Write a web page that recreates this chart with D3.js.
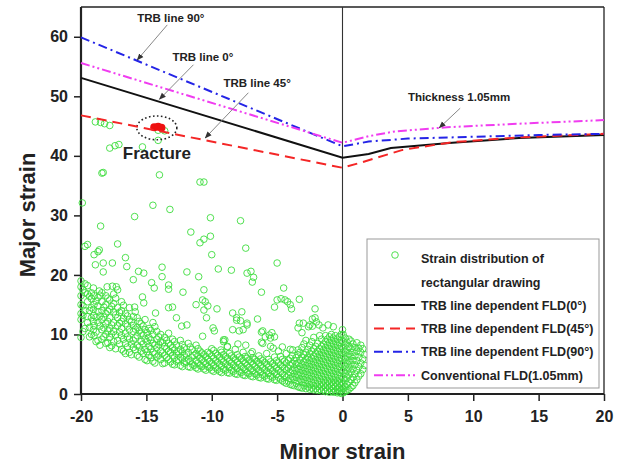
<!DOCTYPE html>
<html>
<head>
<meta charset="utf-8">
<script src="https://cdn.jsdelivr.net/npm/d3@7"></script>
<style>
  body { margin: 0; background: #fff; }
  svg { font-family: "Liberation Sans", Arial, sans-serif; }
</style>
</head>
<body>
<svg width="627" height="465"></svg>
<script>
const svg_width = 627;
const svg_height = 465;

// FLD curves, [minor strain, major strain]
const fld_0 = [[-20, 53.1], [0, 39.7], [2, 40.3], [3.7, 41.3], [8.4, 42.2], [13.5, 43.0], [20, 43.5]];
const fld_45 = [[-20, 46.8], [0, 38.0], [1.3, 38.8], [4.6, 41.0], [8.4, 42.3], [13.5, 43.1], [20, 43.7]];
const fld_90 = [[-20, 59.9], [0, 41.6], [2, 42.4], [5, 42.9], [10, 43.2], [15, 43.5], [20, 43.7]];
const fld_conv = [[-20, 55.6], [0, 42.2], [2, 43.3], [4, 44.1], [8, 44.8], [13.5, 45.4], [20, 46.0]];

const band_columns = [
  [-20, [9.5, 12.5, 13.5, 15, 16.5, 18, 19]],
  [-19.7, [11, 14, 17, 18.5]],
  [-19.5, [12, 13, 15.5, 16.8, 18.2]],
  [-19.2, [10, 12.8, 14.5, 16, 17]],
  [-19.0, [9.8, 11.5, 13.2, 15, 16.5]],
  [-18.7, [9, 12, 13.8, 14.8, 16.2]],
  [-18.4, [9.2, 10.8, 12.5, 14, 15.5, 17]],
  [-18.1, [8.5, 10, 11.8, 13.5, 15, 16.5]],
  [-17.8, [7.8, 9.5, 11, 12.8, 14.2, 15.8]],
  [-17.5, [8.8, 10.5, 12, 13.8, 15.2, 16.8]],
  [-17.2, [9, 11.5, 12.8, 14.5, 17.5]],
  [-16.9, [7.5, 9.8, 11, 12.2, 14, 15.5]],
  [-16.6, [6.8, 8.5, 10.2, 11.8, 13.5]],
  [-16.3, [7, 9.2, 10.8, 12.5, 14.5]],
  [-16.0, [7.8, 9, 10.5, 11.5, 13]],
  [-15.7, [6.5, 8.2, 9.8, 11.2, 12.8]],
  [-15.4, [7.2, 8.8, 10.2, 11.8]],
  [-15.1, [5.8, 7.5, 9.2, 10.8, 12.5]],
  [-14.8, [6.5, 8, 9.5, 11]],
  [-14.5, [5.5, 7, 8.5, 10, 12]],
  [-14.2, [6.2, 7.8, 9.2, 10.5]],
  [-13.9, [5.8, 7.2, 8.8, 10]],
  [-13.6, [5.2, 6.5, 8, 9.5]],
  [-13.3, [5.8, 7.2, 8.5, 10.2]],
  [-13.0, [5, 6.5, 7.8, 9.2]],
  [-12.7, [5.5, 6.8, 8.2]],
  [-12.4, [4.8, 6.2, 7.5, 9]],
  [-12.1, [5.2, 6.5, 7.8]],
  [-11.8, [4.6, 5.8, 7, 8.5]],
  [-11.5, [5, 6.2, 7.5]],
  [-11.2, [4.4, 5.6, 6.8, 8.2]],
  [-10.9, [4.8, 6, 7.2]],
  [-10.6, [4.2, 5.4, 6.6]],
  [-10.3, [4.6, 5.8, 7]],
  [-10.0, [4, 5.2, 6.4, 7.6]],
  [-9.7, [4.4, 5.6, 6.8]],
  [-9.4, [3.8, 5, 6.2]],
  [-9.1, [4.2, 5.4, 6.6, 8.8]],
  [-8.8, [3.6, 4.8, 6, 8]],
  [-8.5, [4, 5.2, 6.4]],
  [-8.2, [3.4, 4.6, 5.8, 7.5]],
  [-7.9, [3.8, 5, 6.2]],
  [-7.6, [3.2, 4.4, 5.6, 7]],
  [-7.3, [3.6, 4.8, 6]],
  [-7.0, [3, 4.2, 5.4, 6.8]],
  [-6.7, [3.4, 4.6, 5.8]],
  [-6.4, [2.8, 4, 5.2, 6.4]],
  [-6.1, [3.2, 4.4, 5.6, 8.5]],
  [-5.8, [2.6, 3.8, 5, 6.8]],
  [-5.5, [3, 4.2, 5.4, 8]],
  [-5.2, [2.4, 3.6, 4.8, 6.2]],
  [-4.9, [2.8, 4, 5.2, 7.2]],
  [-4.6, [2.2, 3.4, 4.6, 5.8]],
  [-4.3, [1.8, 2.8, 4, 5.2, 6.8]],
  [-4.0, [1.6, 2.6, 3.6, 4.8, 6, 7.5]],
  [-3.7, [1.4, 2.4, 3.4, 4.4, 5.6]],
  [-3.4, [1.2, 2.2, 3.2, 4.2, 5.2, 6.6]],
  [-3.1, [1.0, 2.0, 3.0, 4.0, 5.0, 6.2, 7.8]],
  [-2.8, [0.9, 1.8, 2.8, 3.8, 4.8, 5.8, 7, 9]],
  [-2.5, [0.8, 1.6, 2.6, 3.6, 4.6, 5.6, 6.8, 8.2]],
  [-2.2, [0.7, 1.4, 2.4, 3.4, 4.4, 5.4, 6.4, 7.6, 9.5]],
  [-1.9, [0.6, 1.3, 2.2, 3.2, 4.2, 5.2, 6.2, 7.2, 8.5]],
  [-1.6, [0.5, 1.2, 2, 3, 4, 5, 6, 7, 8, 9.2]],
  [-1.3, [0.4, 1.1, 1.9, 2.8, 3.8, 4.8, 5.8, 6.8, 7.8, 8.8, 9.8]],
  [-1.0, [0.3, 1, 1.8, 2.6, 3.6, 4.6, 5.6, 6.6, 7.6, 8.6, 9.6]],
  [-0.7, [0.3, 0.9, 1.6, 2.4, 3.4, 4.4, 5.4, 6.4, 7.4, 8.4, 9.4]],
  [-0.4, [0.2, 0.8, 1.5, 2.2, 3.2, 4.2, 5.2, 6.2, 7.2, 8.2, 9.2]],
  [-0.1, [0.1, 0.6, 1.4, 2, 3, 4, 5, 6, 7, 8, 9, 10]],
  [0.2, [0.4, 1.2, 2.2, 3.4, 4.6, 5.8, 7, 8.2, 9.4]],
  [0.5, [0.8, 2, 3.2, 4.4, 5.6, 6.8, 8, 9.2]],
  [0.8, [1.4, 2.8, 4.2, 5.6, 7, 8.4]],
  [1.1, [2.4, 4, 5.6, 7.2, 8.6]],
  [1.4, [3.4, 5.2, 7, 8.2]],
  [1.7, [4.8, 6.6]]
];

// second pass over the band, between the columns above
const band_columns_b = [
  [-19.85, [10.5, 13.2, 14.8, 17.5]],
  [-19.35, [9.6, 11.2, 14, 16.4]],
  [-19.05, [10.8, 12.2, 14.2, 17.8]],
  [-18.85, [8.8, 10.4, 12.9, 15.6]],
  [-18.55, [8.2, 11.4, 13.1, 16.6]],
  [-18.25, [9.6, 11.1, 12.9, 14.6]],
  [-17.95, [8.6, 10.6, 12.2, 13.9, 16.1]],
  [-17.65, [8.1, 10.1, 11.6, 14.7]],
  [-17.35, [7.6, 9.9, 13.3, 16.1]],
  [-17.05, [8.4, 10.4, 11.9, 13.7]],
  [-16.75, [7.2, 9.2, 12.7, 14.9]],
  [-16.45, [7.9, 9.6, 11.4, 13.1]],
  [-16.15, [6.6, 8.4, 12.1]],
  [-15.85, [7.4, 9.4, 10.9, 13.8]],
  [-15.55, [6.2, 7.9, 10.6, 12.2]],
  [-15.25, [6.8, 8.4, 9.9, 11.4]],
  [-14.95, [5.6, 7.1, 8.8, 10.3]],
  [-14.65, [6.1, 7.6, 9.1, 10.7]],
  [-14.35, [5.2, 6.7, 8.2, 11.3]],
  [-14.05, [6.5, 8.3, 9.6]],
  [-13.75, [5.1, 6.9, 8.6]],
  [-13.45, [6.1, 7.6, 9]],
  [-13.15, [5.4, 7, 8.2]],
  [-12.85, [4.9, 6.1, 7.4, 8.8]],
  [-12.55, [5.7, 7.1]],
  [-12.25, [4.6, 5.9, 7.1, 8.3]],
  [-11.95, [5.4, 6.7]],
  [-11.65, [4.5, 5.5, 7.9]],
  [-11.35, [4.8, 6.5]],
  [-11.05, [4.2, 5.2, 6.4, 7.6]],
  [-10.75, [4.6, 5.8, 6.9]],
  [-10.45, [4, 5.1, 6.3]],
  [-10.15, [4.4, 5.5, 6.8]],
  [-9.85, [3.8, 4.8, 6, 7.3]],
  [-9.55, [4.1, 5.3, 6.5]],
  [-9.25, [3.6, 4.7, 5.8, 7]],
  [-8.95, [4, 5.1, 6.3]],
  [-8.65, [3.5, 4.5, 5.6, 6.8]],
  [-8.35, [3.8, 4.9, 6.1]],
  [-8.05, [3.3, 4.3, 5.4, 6.6]],
  [-7.75, [3.6, 4.6, 5.9]],
  [-7.45, [3.1, 4.1, 5.2, 6.3]],
  [-7.15, [3.4, 4.5, 5.7]],
  [-6.85, [2.9, 3.9, 5, 6.1]],
  [-6.55, [3.2, 4.3, 5.5]],
  [-6.25, [2.7, 3.7, 4.8, 5.9]],
  [-5.95, [3, 4.1, 5.3]],
  [-5.65, [2.5, 3.5, 4.6, 5.8]],
  [-5.35, [2.8, 3.9, 5.1]],
  [-5.05, [2.3, 3.3, 4.4, 5.6]],
  [-4.75, [2.5, 3.7, 4.9, 6.3]],
  [-4.45, [2, 3.1, 4.3, 5.5]],
  [-4.15, [2.2, 3.2, 4.4, 5.7]],
  [-3.85, [1.5, 2.9, 4, 5.1, 6.4]],
  [-3.55, [1.8, 2.8, 3.9, 5, 6.1]],
  [-3.25, [1.1, 2.5, 3.6, 4.6, 5.7, 7]],
  [-2.95, [1.4, 2.4, 3.4, 4.4, 5.4, 6.6, 8.4]],
  [-2.65, [1.2, 2.2, 3.2, 4.2, 5.2, 6.2, 7.5]],
  [-2.35, [1, 2, 3, 4, 5, 6, 7.2, 8.8]],
  [-2.05, [0.9, 1.8, 2.8, 3.8, 4.8, 5.8, 6.8, 8]],
  [-1.75, [0.8, 1.6, 2.6, 3.6, 4.6, 5.6, 6.6, 7.6, 9.8]],
  [-1.45, [0.7, 1.5, 2.4, 3.4, 4.4, 5.4, 6.4, 7.4, 8.4]],
  [-1.15, [0.6, 1.4, 2.2, 3.2, 4.2, 5.2, 6.2, 7.2, 8.2, 9.2]],
  [-0.85, [0.5, 1.3, 2, 3, 4, 5, 6, 7, 8, 9, 10]],
  [-0.55, [0.4, 1.2, 1.9, 2.8, 3.8, 4.8, 5.8, 6.8, 7.8, 8.8, 9.8]],
  [-0.25, [0.3, 1, 1.8, 2.6, 3.6, 4.6, 5.6, 6.6, 7.6, 8.6, 9.6]],
  [0.05, [0.2, 0.9, 1.7, 2.6, 3.9, 5.2, 6.4, 7.6, 8.8, 10]],
  [0.35, [0.6, 1.6, 2.7, 3.9, 5.1, 6.3, 7.5, 8.7]],
  [0.65, [1.1, 2.4, 3.7, 5, 6.3, 7.6, 8.9]],
  [0.95, [1.9, 3.4, 4.9, 6.4, 7.8]],
  [1.25, [3, 4.6, 6.2, 7.7]],
  [1.55, [4.1, 5.9, 7.6]]
];

// the loose points above the band
const scatter_points = [
  [-18.9, 45.7], [-18.5, 45.6], [-18.2, 45.4], [-17.8, 45.1], [-14.1, 44.3], [-13.6, 44.2],
  [-17.8, 41.3], [-17.4, 41.7], [-17.1, 41.9], [-15.3, 41.5], [-14.1, 42.6],
  [-18.4, 37.1], [-18.3, 37.2], [-14.0, 36.8], [-10.9, 35.6], [-10.6, 35.6],
  [-19.9, 32.1], [-14.5, 31.7], [-13.2, 31.0], [-15.9, 29.8], [-10.1, 29.6], [-7.8, 29.1],
  [-18.5, 28.2], [-11.6, 27.2], [-10.1, 26.5], [-10.6, 26.0], [-10.9, 25.4], [-7.4, 24.5],
  [-19.7, 24.8], [-19.5, 25.1], [-17.2, 25.2], [-18.7, 23.9], [-19.0, 23.4], [-18.6, 24.2],
  [-10.0, 23.4], [-16.6, 22.9], [-5.0, 22.0], [-18.9, 21.7], [-18.3, 22.0], [-17.6, 22.0],
  [-16.5, 21.4], [-13.8, 21.3], [-18.3, 20.5], [-15.6, 20.6], [-15.2, 20.3], [-11.9, 20.5],
  [-9.5, 21.0], [-8.5, 20.8], [-7.3, 20.3], [-7.0, 20.6], [-6.8, 19.6], [-6.9, 18.8],
  [-11.0, 19.7], [-13.8, 19.7], [-16.0, 19.2], [-14.6, 18.7], [-14.4, 17.8], [-13.3, 18.3],
  [-13.3, 17.6], [-18.6, 17.3], [-18.0, 18.0], [-17.6, 18.1], [-17.3, 18.0], [-12.2, 17.1],
  [-10.6, 17.5], [-6.2, 17.1], [-4.5, 17.8], [-4.7, 16.0], [-4.4, 15.8], [-4.2, 15.5],
  [-5.0, 15.8], [-3.3, 15.9], [-4.0, 15.0], [-3.9, 14.3], [-5.2, 14.6], [-15.3, 16.3],
  [-15.2, 15.3], [-15.9, 14.6], [-11.2, 15.0], [-10.7, 15.8], [-10.5, 15.5], [-10.3, 14.8],
  [-10.6, 14.1], [-9.6, 14.3], [-13.3, 14.5], [-13.0, 14.6], [-14.3, 13.6], [-10.4, 12.8],
  [-8.4, 13.6], [-8.1, 12.8], [-12.7, 12.8], [-3.0, 11.9], [-2.5, 11.6], [-2.1, 14.3],
  [-2.1, 12.8], [-1.1, 11.6], [-0.7, 11.3], [-12.3, 11.4], [-11.9, 11.6], [-9.9, 11.1],
  [-9.8, 10.6], [-7.3, 11.6], [-6.5, 12.6], [-6.1, 10.6], [-5.6, 9.9], [-5.2, 9.6],
  [0.0, 10.8], [-10.7, 9.7], [-9.0, 9.1], [-8.0, 8.4], [-7.7, 13.8], [-8.1, 12.4],
  [-7.8, 12.3], [-7.3, 11.9], [-8.4, 10.8], [-7.9, 10.6], [-7.6, 10.8], [-6.2, 10.4],
  [-5.4, 10.3], [-5.5, 9.4], [-6.2, 8.7], [-5.9, 9.6], [-3.3, 11.9], [-3.1, 10.3],
  [-3.4, 11.1], [-2.3, 12.6], [-2.0, 12.1], [-1.8, 11.6], [-1.5, 11.1], [-2.3, 11.4],
  [-2.6, 11.3], [-9.1, 9.1], [-9.3, 7.4], [-8.8, 7.9], [-7.4, 8.2], [-6.9, 7.1],
  [-5.3, 7.7], [-4.6, 7.9], [-3.8, 7.4], [-3.4, 7.4]
];

// fracture points (red, filled)
const fracture_points = [[-14.4, 44.8], [-14.1, 44.9], [-13.85, 44.7]];

const x_ticks = [-20, -15, -10, -5, 0, 5, 10, 15, 20];
const y_ticks = [0, 10, 20, 30, 40, 50, 60];

const series = [
  { name: "TRB line dependent FLD(0°)", values: fld_0, color: "#111", dash: null, width: 2 },
  { name: "TRB line dependent FLD(45°)", values: fld_45, color: "#f42626", dash: "10,6", width: 2 },
  { name: "TRB line dependent FLD(90°)", values: fld_90, color: "#2424e6", dash: "9,4,2,4", width: 2 },
  { name: "Conventional FLD(1.05mm)", values: fld_conv, color: "#f03cf0", dash: "9,3,2,3,2,3", width: 2 }
];

const margin = { top: 7, right: 23, bottom: 71, left: 81 };
const plot_w = svg_width - margin.left - margin.right;
const plot_h = svg_height - margin.top - margin.bottom;

const x = d3.scaleLinear().domain([-20, 20]).range([0, plot_w]);
const y = d3.scaleLinear().domain([0, 65]).range([plot_h, 0]);

const svg = d3.select("svg");
const g = svg.append("g").attr("transform", `translate(${margin.left},${margin.top})`);

function drawAxes() {
  var x_axis = d3.axisBottom(x).tickValues(x_ticks).tickSize(7).tickPadding(10).tickFormat(d => String(d));
  var y_axis = d3.axisLeft(y).tickValues(y_ticks).tickSize(7).tickPadding(6).tickFormat(d => String(d));

  var gx = g.append("g").attr("transform", `translate(0,${plot_h})`).call(x_axis);
  var gy = g.append("g").call(y_axis);

  [gx, gy].forEach(a => {
    a.select(".domain").remove();
    a.selectAll("line").attr("stroke", "#222").attr("stroke-width", 1.5);
    a.selectAll("text")
      .attr("fill", "#222")
      .style("font-size", "16px")
      .style("font-weight", "bold")
      .style("font-family", '"Liberation Sans", Arial, sans-serif');
  });

  // frame: left and bottom heavier than top and right
  g.append("line").attr("x1", 0).attr("x2", plot_w).attr("y1", 0).attr("y2", 0)
    .attr("stroke", "#222").attr("stroke-width", 1.3);
  g.append("line").attr("x1", plot_w).attr("x2", plot_w).attr("y1", 0).attr("y2", plot_h)
    .attr("stroke", "#222").attr("stroke-width", 1.3);
  g.append("line").attr("x1", 0).attr("x2", 0).attr("y1", 0).attr("y2", plot_h)
    .attr("stroke", "#222").attr("stroke-width", 2.2);
  g.append("line").attr("x1", 0).attr("x2", plot_w).attr("y1", plot_h).attr("y2", plot_h)
    .attr("stroke", "#222").attr("stroke-width", 2.2);

  // zero line
  g.append("line").attr("x1", x(0)).attr("x2", x(0)).attr("y1", 0).attr("y2", plot_h)
    .attr("stroke", "#333").attr("stroke-width", 1.1);

  svg.append("text")
    .attr("x", margin.left + plot_w / 2).attr("y", 459)
    .attr("text-anchor", "middle")
    .style("font-size", "22px").style("font-weight", "bold").attr("fill", "#222")
    .text("Minor strain");

  svg.append("text")
    .attr("transform", "translate(35,215) rotate(-90)")
    .attr("text-anchor", "middle")
    .style("font-size", "22px").style("font-weight", "bold").attr("fill", "#222")
    .text("Major strain");
}

function drawPoints() {
  var pts = scatter_points.slice();
  band_columns.concat(band_columns_b).forEach(c => c[1].forEach(v => pts.push([c[0], v])));

  g.append("g").selectAll("circle").data(pts).enter().append("circle")
    .attr("cx", d => x(d[0]))
    .attr("cy", d => y(d[1]))
    .attr("r", 3.3)
    .attr("fill", "none")
    .attr("stroke", "#3ddc3d")
    .attr("stroke-width", 0.9);

  g.append("g").selectAll("circle").data(fracture_points).enter().append("circle")
    .attr("cx", d => x(d[0]))
    .attr("cy", d => y(d[1]))
    .attr("r", 4)
    .attr("fill", "#ee1111");

  // dotted ring round the fracture
  g.append("ellipse")
    .attr("cx", x(-14.2)).attr("cy", y(44.7))
    .attr("rx", x(-12.67) - x(-14.2)).attr("ry", y(42.7) - y(44.7))
    .attr("fill", "none").attr("stroke", "#222")
    .attr("stroke-width", 1.6).attr("stroke-dasharray", "1.6,2.4");

  g.append("text").attr("x", x(-16.8)).attr("y", y(39.5))
    .style("font-size", "17px").style("font-weight", "bold").attr("fill", "#222")
    .text("Fracture");
}

function drawCurves() {
  var line = d3.line().x(d => x(d[0])).y(d => y(d[1]));
  g.append("g").selectAll("path").data(series).enter().append("path")
    .attr("d", d => line(d.values))
    .attr("fill", "none")
    .attr("stroke", d => d.color)
    .attr("stroke-width", d => d.width)
    .attr("stroke-dasharray", d => d.dash);
}

function drawAnnotations() {
  svg.append("defs").append("marker")
    .attr("id", "arrow").attr("viewBox", "0 0 10 10")
    .attr("refX", 9).attr("refY", 5)
    .attr("markerWidth", 7).attr("markerHeight", 7)
    .attr("orient", "auto-start-reverse")
    .append("path").attr("d", "M0,1 L10,5 L0,9 z").attr("fill", "#333");

  // label text position and arrow from/to, all in data units
  var notes = [
    { text: "TRB line 90°", at: [-15.7, 62.5], from: [-13.4, 62.0], to: [-15.7, 56.1] },
    { text: "TRB line 0°", at: [-13.0, 55.9], from: [-11.4, 55.3], to: [-14.0, 49.5] },
    { text: "TRB line 45°", at: [-9.1, 51.6], from: [-7.2, 50.6], to: [-10.5, 43.0] },
    { text: "Thickness 1.05mm", at: [5.0, 49.2], from: [9.0, 48.0], to: [7.4, 44.7] }
  ];

  var n = g.append("g").selectAll("g").data(notes).enter().append("g");
  n.append("line")
    .attr("x1", d => x(d.from[0])).attr("y1", d => y(d.from[1]))
    .attr("x2", d => x(d.to[0])).attr("y2", d => y(d.to[1]))
    .attr("stroke", "#888").attr("stroke-width", 1)
    .attr("marker-end", "url(#arrow)");
  n.append("text")
    .attr("x", d => x(d.at[0])).attr("y", d => y(d.at[1]))
    .style("font-size", "11.5px").style("font-weight", "bold").attr("fill", "#222")
    .text(d => d.text);
}

function drawLegend() {
  var lg = svg.append("g");
  lg.append("rect").attr("x", 367).attr("y", 239).attr("width", 232).attr("height", 149)
    .attr("fill", "#fff").attr("stroke", "#999").attr("stroke-width", 1);

  lg.append("circle").attr("cx", 395).attr("cy", 255).attr("r", 3.3)
    .attr("fill", "none").attr("stroke", "#3ddc3d").attr("stroke-width", 0.9);

  var font = t => t.style("font-size", "12.5px").style("font-weight", "bold").attr("fill", "#222");
  lg.append("text").attr("x", 421).attr("y", 262.5).text("Strain distribution of").call(font);
  lg.append("text").attr("x", 421).attr("y", 286.5).text("rectangular drawing").call(font);

  var rows = lg.selectAll(".row").data(series).enter().append("g").attr("class", "row")
    .attr("transform", (d, i) => `translate(0,${305 + i * 23.4})`);
  rows.append("line").attr("x1", 374).attr("x2", 415).attr("y1", 0).attr("y2", 0)
    .attr("stroke", d => d.color).attr("stroke-width", d => d.width)
    .attr("stroke-dasharray", d => d.dash);
  rows.append("text").attr("x", 421).attr("y", 4.5).text(d => d.name).call(font);
}

drawAxes();
drawPoints();
drawCurves();
drawAnnotations();
drawLegend();
</script>
</body>
</html>
